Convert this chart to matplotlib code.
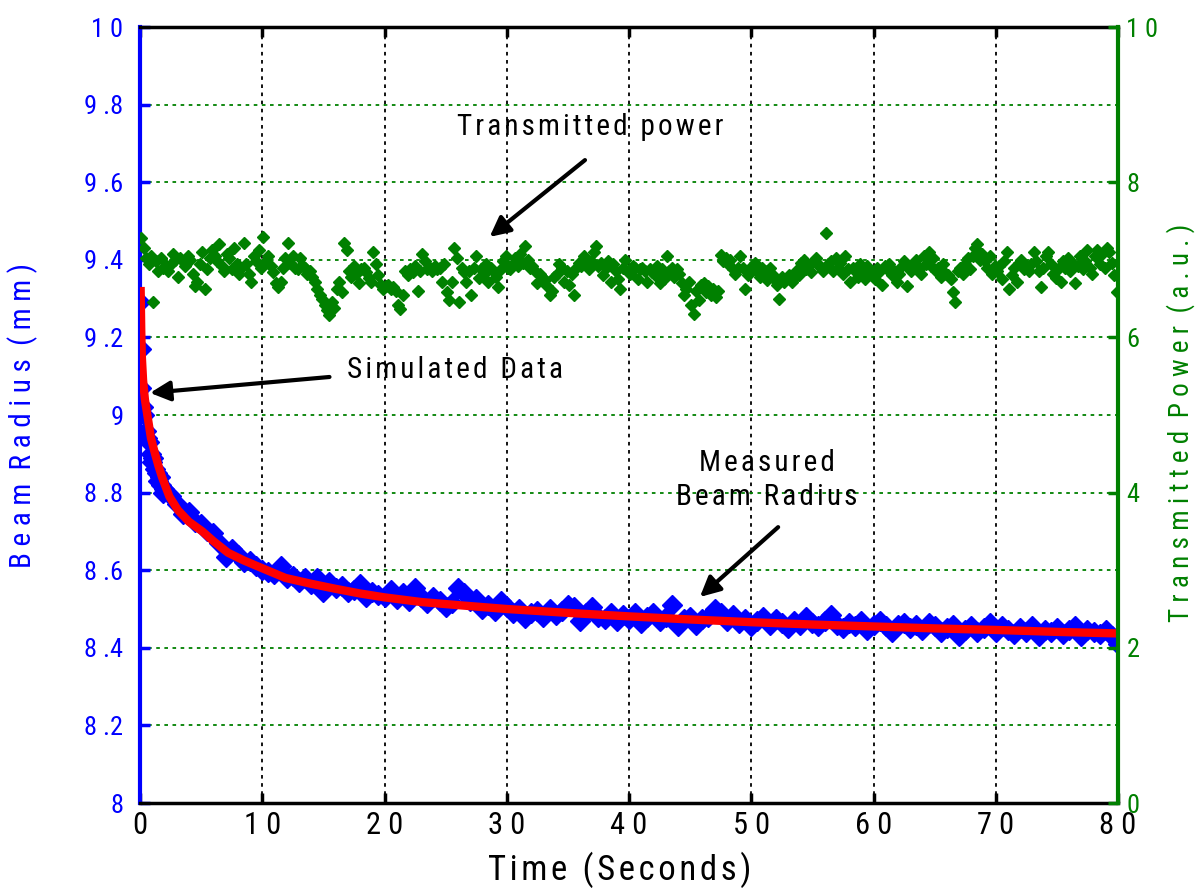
import numpy as np
import matplotlib
matplotlib.use("Agg")
import matplotlib.pyplot as plt

plt.rcParams['font.family'] = ['Roboto Condensed', 'DejaVu Sans']
plt.rcParams['font.stretch'] = 'condensed'

# measured beam radius (mm)
radius_t_early = [0.0, 0.05, 0.1, 0.25, 0.35, 0.5, 0.6, 0.75, 0.9, 1.0,
                  1.1, 1.2, 1.35, 1.5, 1.6, 1.75, 1.9]
radius_early = [9.29, 9.17, 9.07, 9.02, 9.0, 8.96, 8.94, 8.93, 8.90, 8.88,
                8.89, 8.86, 8.85, 8.83, 8.84, 8.82, 8.80]
radius_late = [
    8.81, 8.79, 8.77, 8.745, 8.75, 8.725, 8.72, 8.70, 8.695, 8.67,
    8.635, 8.655, 8.64, 8.62, 8.625, 8.61, 8.60, 8.595, 8.59, 8.61,
    8.58, 8.585, 8.57, 8.58, 8.565, 8.58, 8.545, 8.57, 8.555, 8.56,
    8.545, 8.55, 8.565, 8.53, 8.545, 8.535, 8.53, 8.55, 8.525, 8.54,
    8.52, 8.555, 8.53, 8.515, 8.53, 8.52, 8.505, 8.515, 8.555, 8.54,
    8.52, 8.525, 8.50, 8.51, 8.495, 8.52, 8.505, 8.49, 8.50, 8.478,
    8.49, 8.495, 8.48, 8.50, 8.485, 8.495, 8.51, 8.505, 8.468, 8.49,
    8.505, 8.48, 8.475, 8.49, 8.47, 8.485, 8.475, 8.49, 8.465, 8.48,
    8.49, 8.47, 8.48, 8.51, 8.455, 8.475, 8.48, 8.46, 8.475, 8.48,
    8.50, 8.49, 8.47, 8.485, 8.465, 8.475, 8.455, 8.47, 8.48, 8.46,
    8.475, 8.465, 8.45, 8.47, 8.46, 8.48, 8.465, 8.455, 8.47, 8.485,
    8.46, 8.45, 8.465, 8.455, 8.47, 8.445, 8.46, 8.47, 8.455, 8.44,
    8.46, 8.465, 8.45, 8.46, 8.445, 8.465, 8.455, 8.44, 8.45, 8.46,
    8.43, 8.445, 8.455, 8.44, 8.45, 8.465, 8.44, 8.455, 8.445, 8.435,
    8.45, 8.44, 8.455, 8.43, 8.445, 8.44, 8.45, 8.435, 8.445, 8.455,
    8.43, 8.445, 8.44, 8.435, 8.445, 8.43, 8.41]
radius_t = radius_t_early + list(np.arange(2.0, 80.01, 0.5))
radius = radius_early + radius_late

# simulated data (fit)
sim_t = [0.05, 0.1, 0.15, 0.25, 0.4, 0.65, 0.9, 1.23, 1.5, 1.8, 2.4, 3.1,
         4.0, 5.1, 6.0, 7.2, 8.5, 10, 11.9, 14, 16, 18, 20, 23, 26, 30,
         35, 40, 45, 50, 55, 60, 65, 70, 75, 80]
sim_radius = [9.33, 9.22, 9.15, 9.09, 9.04, 8.99, 8.94, 8.90, 8.87, 8.84,
              8.79, 8.755, 8.725, 8.70, 8.675, 8.645, 8.625, 8.605, 8.58,
              8.565, 8.552, 8.54, 8.53, 8.518, 8.51, 8.50, 8.49, 8.481,
              8.473, 8.466, 8.46, 8.455, 8.45, 8.446, 8.441, 8.437]

# transmitted power (a.u.), five samples per second
power = [
    7.28, 7.15, 7.02, 6.95, 7.05, 6.45, 6.98, 6.85, 7.02, 6.9,
    6.92, 6.85, 6.95, 7.08, 7.0, 6.78, 7.02, 6.98, 6.92, 7.05,
    7.0, 6.82, 6.66, 6.72, 6.95, 7.1, 6.62, 6.88, 7.02, 7.12,
    7.05, 6.98, 7.2, 6.92, 6.85, 7.08, 7.02, 6.88, 7.15, 6.95,
    6.82, 6.9, 7.22, 6.95, 6.82, 6.72, 7.05, 6.98, 7.12, 6.9,
    7.3, 6.98, 7.05, 6.92, 6.84, 6.7, 6.65, 6.72, 6.9, 7.02,
    7.22, 6.96, 7.05, 6.9, 6.88, 7.02, 6.92, 6.9, 6.82, 6.86,
    6.78, 6.72, 6.62, 6.55, 6.5, 6.42, 6.35, 6.29, 6.45, 6.38,
    6.62, 6.72, 6.58, 7.22, 7.12, 6.85, 6.78, 6.92, 6.82, 6.7,
    6.88, 6.9, 6.84, 6.76, 6.72, 7.1, 6.95, 6.8, 6.68, 6.62,
    6.66, 6.68, 6.62, 6.65, 6.6, 6.42, 6.36, 6.55, 6.85, 6.8,
    6.88, 6.84, 6.92, 6.6, 6.86, 7.08, 6.98, 6.88, 6.9, 6.86,
    6.92, 6.88, 6.9, 6.72, 6.95, 6.58, 6.48, 6.72, 7.15, 7.02,
    6.45, 6.9, 6.84, 6.72, 6.86, 6.55, 6.9, 7.05, 6.76, 6.88,
    6.82, 6.95, 6.72, 6.9, 6.86, 6.78, 6.65, 6.88, 6.98, 7.05,
    6.9, 6.88, 6.95, 7.02, 6.92, 7.08, 6.96, 7.18, 7.0, 6.9,
    6.92, 6.86, 6.7, 6.82, 6.78, 6.74, 6.66, 6.55, 6.6, 6.78,
    6.82, 6.95, 6.9, 6.72, 6.86, 6.68, 6.82, 6.55, 6.9, 6.96,
    6.92, 7.05, 6.95, 6.88, 6.98, 7.1, 7.18, 6.92, 6.96, 6.8,
    6.9, 6.98, 6.72, 6.94, 6.86, 6.75, 6.62, 6.9, 7.0, 6.85,
    6.82, 6.92, 6.9, 6.75, 6.88, 6.9, 6.86, 6.72, 6.88, 6.84,
    6.8, 6.92, 6.7, 6.88, 6.75, 7.05, 6.85, 6.9, 6.78, 6.88,
    6.82, 6.7, 6.55, 6.62, 6.72, 6.42, 6.3, 6.6, 6.48, 6.68,
    6.7, 6.58, 6.66, 6.55, 6.62, 6.52, 6.6, 7.06, 6.98, 7.02,
    6.95, 7.0, 6.88, 6.82, 6.9, 7.05, 6.9, 6.62, 6.8, 6.85,
    6.92, 6.96, 6.85, 6.78, 6.9, 6.86, 6.74, 6.9, 6.82, 6.75,
    6.68, 6.5, 6.78, 6.72, 6.76, 6.8, 6.72, 6.76, 6.85, 6.8,
    6.96, 7.0, 6.88, 6.92, 6.84, 6.98, 7.02, 6.94, 6.9, 6.86,
    7.35, 6.95, 6.98, 6.86, 7.02, 6.9, 6.96, 6.82, 7.05, 6.88,
    6.72, 6.9, 6.86, 6.78, 6.94, 6.88, 6.75, 6.92, 6.84, 6.82,
    6.75, 6.9, 6.85, 6.68, 6.92, 6.88, 6.95, 6.8, 6.86, 6.72,
    6.82, 6.92, 6.98, 6.66, 6.9, 6.85, 6.96, 7.0, 6.88, 6.82,
    7.05, 6.95, 7.1, 6.92, 7.02, 6.85, 6.9, 6.78, 6.95, 6.82,
    6.8, 6.75, 6.58, 6.45, 6.86, 6.9, 6.82, 6.95, 7.02, 6.88,
    7.05, 7.15, 7.2, 7.0, 7.08, 6.98, 6.9, 7.05, 6.82, 6.92,
    6.86, 6.92, 6.75, 6.98, 7.1, 6.62, 6.8, 6.9, 6.72, 6.96,
    7.0, 6.88, 6.92, 6.85, 6.95, 7.1, 6.98, 6.86, 6.65, 6.9,
    7.05, 7.1, 6.95, 6.82, 6.76, 6.88, 6.72, 6.98, 6.9, 7.02,
    6.85, 6.95, 6.7, 6.92, 7.05, 6.88, 6.98, 7.12, 6.9, 6.82,
    7.05, 7.12, 6.95, 7.08, 6.9, 7.15, 7.1, 6.96, 6.8, 6.58]
power_t = np.arange(len(power)) * 0.2 + 0.1

x_ticks = [0, 10, 20, 30, 40, 50, 60, 70, 80]
x_ticklabels = ["0", "1 0", "2 0", "3 0", "4 0", "5 0", "6 0", "7 0", "8 0"]
left_ticks = [8.0, 8.2, 8.4, 8.6, 8.8, 9.0, 9.2, 9.4, 9.6, 9.8, 10.0]
left_ticklabels = ["8", "8 .2", "8 .4", "8 .6", "8 .8", "9", "9 .2", "9 .4",
                   "9 .6", "9 .8", "1 0"]
right_ticks = [0, 2, 4, 6, 8, 10]
right_ticklabels = ["0", "2", "4", "6", "8", "1 0"]


def spaced(s):
    # loose letter spacing, as in the original export
    return '\u200a'.join(s)


blue = '#0000ff'
green = '#008000'

fig = plt.figure(figsize=(12.01, 8.88), dpi=100)
ax = fig.add_axes([140 / 1201, 85 / 888, 978 / 1201, 776 / 888])
ax2 = ax.twinx()

ax.plot(radius_t, radius, 'D', color=blue, ms=10.5, mec=blue, zorder=3)
ax.plot(sim_t, sim_radius, color='red', lw=6, zorder=4, solid_capstyle='butt')
ax2.plot(power_t, power, 'D', color=green, ms=6.5, mec=green)

ax.set_xlim(0, 80)
ax.set_ylim(8, 10)
ax2.set_ylim(0, 10)
ax.set_xticks(x_ticks)
ax.set_xticklabels(x_ticklabels, fontsize=22)
ax.set_yticks(left_ticks)
ax.set_yticklabels(left_ticklabels, fontsize=19, color=blue)
ax2.set_yticks(right_ticks)
ax2.set_yticklabels(right_ticklabels, fontsize=19, color=green)

ax.xaxis.grid(True, color='k', ls=(0, (2, 2.5)), lw=1.3)
ax.yaxis.grid(True, color=green, ls=(0, (2, 2.5)), lw=1.3)
ax.set_axisbelow(True)

ax.tick_params(axis='x', direction='in', top=True, length=7, width=2.5, pad=6)
ax.tick_params(axis='y', direction='in', length=7, width=2.5, colors=blue, pad=12, right=False)
ax2.tick_params(axis='y', direction='in', length=7, width=2.5, colors=green, pad=6)

for s in ['bottom', 'top']:
    ax.spines[s].set_linewidth(2.5)
    ax.spines[s].set_color('k')
ax.spines['left'].set_color(blue)
ax.spines['left'].set_linewidth(3)
ax.spines['right'].set_visible(False)
for s in ['left', 'top', 'bottom']:
    ax2.spines[s].set_visible(False)
ax2.spines['right'].set_color(green)
ax2.spines['right'].set_linewidth(3)

ax.set_xlabel(spaced("Time (Seconds)"), fontsize=25)
ax.xaxis.set_label_coords(0.49, -0.063)
ax.set_ylabel("B e a m  R a d i u s  ( m m )", fontsize=21, color=blue)
ax.yaxis.set_label_coords(-0.104, 0.5)
ax2.set_ylabel("T r a n s m i t t e d  P o w e r  ( a . u . )", fontsize=19.5,
               color=green)
ax2.yaxis.set_label_coords(1.049, 0.49)

arrow = dict(arrowstyle='-|>', color='k', lw=3, mutation_scale=30, shrinkA=0, shrinkB=0)
ax.text(36.8, 9.742, spaced("Transmitted power"), fontsize=21,
        ha='center', va='center')
ax.annotate("", xy=(28.6, 9.459), xytext=(36.4, 9.657), arrowprops=arrow)
ax.text(16.9, 9.116, spaced("Simulated Data"), fontsize=21,
        ha='left', va='center')
ax.annotate("", xy=(0.82, 9.057), xytext=(15.5, 9.098), arrowprops=arrow)
ax.text(51.3, 8.832, spaced("Measured") + "\n" + spaced("Beam Radius"),
        fontsize=21, ha='center', va='center', linespacing=1.25)
ax.annotate("", xy=(45.8, 8.531), xytext=(52.2, 8.711), arrowprops=arrow)

fig.savefig("out.png", dpi=100)
